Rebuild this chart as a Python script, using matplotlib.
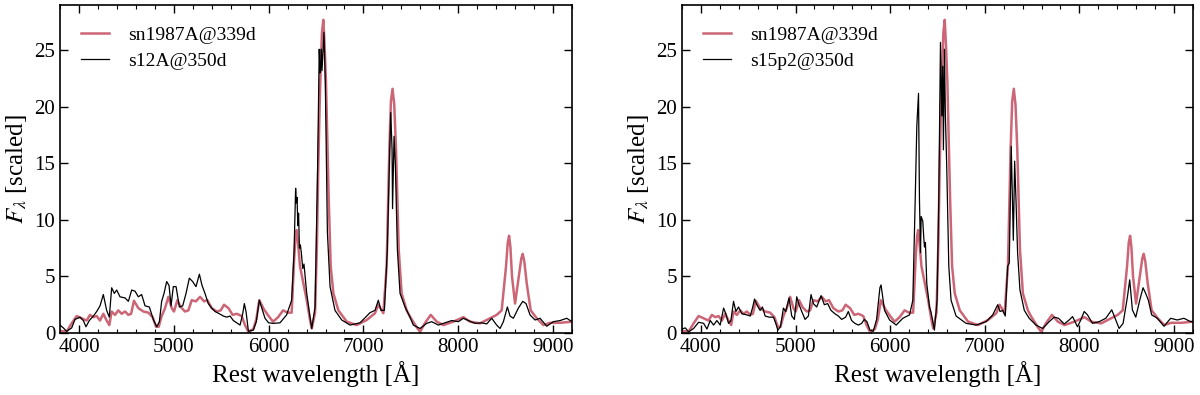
"""
Late-time nebular spectra: SN 1987A at 339 d against two models at 350 d.
"""

import matplotlib

matplotlib.use("Agg")
import matplotlib.pyplot as plt
from matplotlib.ticker import MultipleLocator

# --- SN 1987A @ 339 d (same in both panels) ---
wave_87a = [
    3800, 3870, 3923, 3976, 4029, 4081, 4116, 4152, 4187, 4222, 4257, 4292, 4320, 4345,
    4380, 4415, 4450, 4486, 4521, 4550, 4580, 4626, 4679, 4732, 4777, 4813, 4841, 4872,
    4908, 4943, 4978, 5002, 5038, 5073, 5118, 5154, 5189, 5234, 5277, 5319, 5354, 5400,
    5453, 5495, 5530, 5576, 5621, 5664, 5716, 5751, 5787, 5839, 5870, 5902, 5950, 6000,
    6047, 6100, 6153, 6200, 6243, 6271, 6285, 6296, 6310, 6331, 6366, 6402, 6437, 6455,
    6490, 6510, 6524, 6538, 6550, 6563, 6577, 6590, 6605, 6620, 6634, 6655, 6683, 6736,
    6824, 6929, 7035, 7122, 7157, 7210, 7245, 7273, 7290, 7307, 7325, 7344, 7372, 7403,
    7456, 7491, 7562, 7597, 7650, 7710, 7773, 7843, 7948, 8054, 8124, 8230, 8335, 8405,
    8458, 8504, 8522, 8536, 8550, 8567, 8599, 8634, 8665, 8680, 8697, 8722, 8764, 8828,
    8898, 8968, 9074, 9200,
]
flux_87a = [
    0.18, 0.12, 0.85, 1.5, 1.3, 1.1, 1.6, 1.4, 1.5, 1.1, 1.7, 1.1, 0.7, 1.9,
    1.6, 2.0, 1.7, 1.9, 1.6, 1.7, 2.85, 2.2, 1.9, 1.8, 1.4, 0.55, 0.55, 1.5,
    2.2, 3.2, 2.2, 1.9, 2.9, 2.3, 1.9, 2.0, 2.9, 2.8, 3.2, 2.8, 2.9, 2.2,
    1.9, 2.0, 2.5, 2.2, 1.6, 1.7, 1.5, 0.7, 0.1, 0.35, 1.2, 2.9, 2.1, 1.5,
    1.0, 1.4, 2.0, 1.8, 1.8, 6.8, 8.6, 9.1, 8.0, 5.9, 4.4, 2.9, 1.15, 0.4,
    1.8, 8.0, 14.8, 20.0, 23.6, 26.6, 27.7, 25.5, 22.2, 17.0, 11.8, 5.9, 3.5, 2.0,
    1.0, 0.7, 1.15, 1.75, 2.5, 1.75, 5.9, 16.2, 20.5, 21.6, 20.2, 16.2, 7.4, 3.5,
    2.0, 1.45, 0.5, 0.1, 0.9, 1.6, 1.0, 0.7, 1.0, 1.4, 1.0, 0.85, 1.3, 1.6,
    2.0, 5.9, 8.0, 8.6, 7.6, 5.0, 2.6, 4.7, 6.6, 7.0, 6.3, 4.4, 2.0, 1.3,
    0.7, 0.9, 0.9, 1.0,
]

# --- model s12A @ 350 d (left panel) ---
wave_s12a = [
    3800, 3835, 3870, 3923, 3958, 4011, 4046, 4074, 4109, 4152, 4187, 4222, 4257, 4292,
    4320, 4345, 4373, 4398, 4433, 4486, 4521, 4556, 4591, 4626, 4661, 4697, 4742, 4784,
    4820, 4848, 4872, 4897, 4925, 4950, 4971, 4995, 5024, 5059, 5094, 5129, 5164, 5199,
    5234, 5270, 5298, 5329, 5364, 5400, 5435, 5481, 5523, 5558, 5593, 5628, 5664, 5699,
    5727, 5744, 5762, 5787, 5839, 5870, 5902, 5962, 6000, 6050, 6120, 6190, 6243, 6268,
    6285, 6292, 6300, 6308, 6316, 6325, 6335, 6345, 6360, 6373, 6402, 6437, 6455, 6490,
    6517, 6534, 6542, 6550, 6556, 6563, 6571, 6584, 6592, 6598, 6620, 6648, 6700, 6771,
    6859, 6964, 7070, 7122, 7157, 7186, 7221, 7252, 7273, 7288, 7302, 7307, 7323, 7337,
    7358, 7386, 7439, 7491, 7526, 7597, 7667, 7720, 7790, 7861, 7931, 8001, 8054, 8107,
    8177, 8247, 8300, 8353, 8405, 8441, 8476, 8518, 8546, 8581, 8634, 8680, 8715, 8757,
    8810, 8863, 8933, 9003, 9074, 9144, 9200,
]
flux_s12a = [
    0.7, 0.45, 0.15, 0.45, 1.2, 1.4, 1.1, 0.55, 1.1, 1.5, 1.9, 2.4, 3.4, 2.0,
    1.4, 4.0, 3.5, 3.8, 3.2, 3.1, 2.8, 3.8, 3.7, 3.2, 3.4, 2.4, 2.3, 1.2,
    0.55, 1.0, 2.8, 3.5, 4.55, 4.2, 2.4, 4.1, 4.1, 2.3, 2.4, 3.5, 4.85, 4.55,
    4.1, 5.2, 4.2, 3.5, 2.6, 2.2, 1.9, 1.7, 1.5, 1.4, 1.5, 1.1, 0.9, 0.7,
    1.7, 2.6, 1.9, 0.15, 0.25, 1.0, 2.9, 1.3, 0.9, 0.85, 0.9, 1.6, 2.9, 7.1,
    12.8, 11.5, 12.0, 9.5, 10.6, 7.5, 7.8, 7.1, 5.7, 6.1, 3.5, 1.4, 0.4, 2.3,
    14.8, 25.1, 23.0, 23.5, 25.1, 23.2, 24.5, 26.6, 24.0, 22.1, 8.9, 4.1, 2.0, 1.15,
    0.7, 0.9, 1.8, 2.0, 2.9, 2.0, 2.0, 7.4, 14.8, 19.5, 16.2, 11.0, 17.4, 14.8,
    7.4, 3.5, 2.3, 1.4, 0.7, 0.4, 0.85, 1.0, 0.7, 0.9, 1.1, 1.0, 1.3, 1.1,
    0.85, 0.9, 0.8, 1.3, 0.7, 0.4, 1.0, 2.3, 1.5, 1.3, 2.2, 2.8, 2.6, 1.6,
    1.15, 1.3, 0.6, 1.0, 1.1, 1.3, 1.0,
]

# --- model s15p2 @ 350 d (right panel) ---
wave_s15p2 = [
    3800, 3835, 3870, 3923, 3976, 4029, 4064, 4099, 4134, 4169, 4204, 4240, 4264, 4292,
    4317, 4345, 4370, 4398, 4433, 4486, 4521, 4545, 4567, 4591, 4626, 4651, 4679, 4721,
    4767, 4792, 4813, 4841, 4872, 4897, 4932, 4960, 4988, 5013, 5038, 5066, 5101, 5136,
    5164, 5189, 5224, 5270, 5305, 5340, 5375, 5417, 5453, 5488, 5530, 5558, 5593, 5628,
    5664, 5699, 5727, 5755, 5787, 5822, 5857, 5892, 5904, 5941, 5994, 6064, 6134, 6205,
    6240, 6265, 6282, 6300, 6310, 6321, 6328, 6345, 6355, 6363, 6373, 6387, 6416, 6433,
    6468, 6496, 6514, 6532, 6546, 6556, 6563, 6574, 6584, 6598, 6620, 6644, 6697, 6803,
    6908, 7014, 7084, 7137, 7162, 7190, 7217, 7242, 7259, 7280, 7291, 7302, 7316, 7330,
    7347, 7372, 7418, 7470, 7541, 7611, 7681, 7734, 7780, 7840, 7892, 7928, 7980, 8015,
    8051, 8086, 8139, 8209, 8279, 8342, 8385, 8420, 8462, 8508, 8532, 8560, 8596, 8638,
    8673, 8701, 8729, 8764, 8824, 8894, 8965, 9035, 9105, 9176, 9200,
]
flux_s15p2 = [
    0.35, 0.45, 0.1, 0.4, 0.95, 0.85, 0.35, 1.1, 0.7, 1.1, 0.7, 2.2, 1.7, 0.85,
    1.1, 2.8, 1.9, 2.3, 1.7, 1.6, 1.5, 2.2, 3.0, 2.5, 2.0, 2.3, 1.5, 1.4,
    1.4, 0.85, 0.25, 0.55, 2.2, 1.9, 3.1, 1.5, 1.2, 3.2, 2.5, 1.9, 1.2, 1.5,
    3.4, 2.6, 2.3, 3.3, 2.5, 2.6, 2.0, 1.7, 1.5, 1.2, 1.4, 1.9, 1.1, 0.85,
    0.7, 0.85, 1.2, 1.0, 0.25, 0.15, 1.2, 4.0, 4.25, 2.0, 1.15, 0.7, 1.3, 1.6,
    2.9, 11.8, 18.3, 21.2, 11.8, 7.1, 10.3, 9.9, 8.5, 7.6, 8.0, 4.4, 2.3, 1.8,
    0.25, 2.9, 11.8, 25.7, 19.2, 23.6, 16.2, 25.1, 19.2, 14.8, 5.9, 2.9, 1.5, 0.85,
    0.7, 1.0, 1.6, 2.5, 1.9, 2.0, 1.5, 5.9, 6.2, 16.5, 12.4, 8.2, 15.2, 11.8,
    7.1, 3.8, 2.0, 1.3, 0.7, 0.4, 1.0, 1.4, 1.3, 0.8, 1.15, 1.45, 0.55, 1.15,
    1.9, 1.6, 0.85, 1.0, 1.3, 2.05, 1.15, 0.4, 0.85, 3.2, 4.7, 2.05, 1.4, 2.9,
    4.0, 3.5, 2.9, 1.6, 1.3, 0.6, 1.3, 1.15, 1.3, 1.0, 1.0,
]

OBS_LABEL = "sn1987A@339d"
MODEL_LABELS = ["s12A@350d", "s15p2@350d"]

RED = "#CC6677"

plt.rcParams["font.family"] = ["Liberation Serif", "DejaVu Serif"]
plt.rcParams["mathtext.fontset"] = "stix"


def draw_panel(ax, wave_mod, flux_mod, model_label):
    ax.plot(wave_87a, flux_87a, color=RED, lw=1.8, label=OBS_LABEL)
    ax.plot(wave_mod, flux_mod, color="black", lw=0.9, label=model_label)
    ax.set_xlim(3800, 9200)
    ax.set_ylim(0, 29)
    ax.xaxis.set_major_locator(MultipleLocator(1000))
    ax.xaxis.set_minor_locator(MultipleLocator(200))
    ax.yaxis.set_major_locator(MultipleLocator(5))
    ax.tick_params(which="both", direction="in", top=True, right=True, labelsize=15)
    ax.tick_params(which="major", length=6, width=1.0)
    ax.tick_params(which="minor", length=3, width=0.8)
    for sp in ax.spines.values():
        sp.set_linewidth(1.2)
    ax.set_xlabel("Rest wavelength [Å]", fontsize=18, labelpad=3)
    ax.set_ylabel(r"$F_\lambda$ [scaled]", fontsize=18, labelpad=4)
    ax.legend(loc="upper left", frameon=False, fontsize=14, handlelength=1.4,
              handletextpad=1.0, labelspacing=0.4, borderaxespad=0.5,
              borderpad=0.6)


def main():
    fig = plt.figure(figsize=(12, 3.95), dpi=100)
    ax_l = fig.add_axes([0.05, 0.157, 0.4267, 0.830])
    ax_r = fig.add_axes([0.5683, 0.157, 0.4258, 0.830])
    draw_panel(ax_l, wave_s12a, flux_s12a, MODEL_LABELS[0])
    draw_panel(ax_r, wave_s15p2, flux_s15p2, MODEL_LABELS[1])
    fig.savefig("out.png", dpi=100)


if __name__ == "__main__":
    main()
